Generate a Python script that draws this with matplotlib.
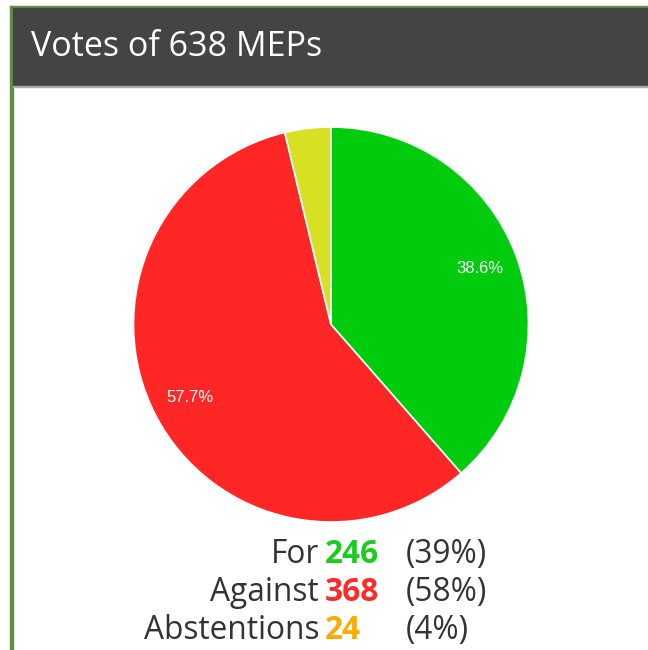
import matplotlib
matplotlib.use("Agg")
import matplotlib.pyplot as plt
from matplotlib.patches import Rectangle

title = "Votes of 638 MEPs"
categories = ["For", "Against", "Abstentions"]
votes = [246, 368, 24]
slice_colors = ["#00cc0e", "#ff2626", "#d8e024"]
number_colors = ["#1ccc1c", "#ff2a2a", "#ffaa00"]

W, H = 648, 650
fig = plt.figure(figsize=(W / 100, H / 100), dpi=100)
fig.patch.set_facecolor("white")

def fx(x):
    return x / W

def fy(y):
    return 1 - y / H

# frame: green borders, header
fig.patches.append(Rectangle((fx(10), fy(650)), fx(2.5), fy(6) - fy(650), transform=fig.transFigure, color="#5f8f47", zorder=1))
fig.patches.append(Rectangle((fx(10), fy(8.5)), 1, fy(6) - fy(8.5), transform=fig.transFigure, color="#5f8f47", zorder=1))
fig.patches.append(Rectangle((fx(12.5), fy(86)), 1, fy(8.5) - fy(86), transform=fig.transFigure, color="#444444", zorder=1))
fig.patches.append(Rectangle((fx(12.5), fy(87)), 1, fy(86) - fy(87), transform=fig.transFigure, color="#aaaaaa", zorder=1))

fig.text(fx(31), fy(47.5), title, color="white", fontsize=24.5, family="Open Sans",
         va="center", ha="left")

# pie
cx, cy, r = 331, 324.5, 197.5
ax = fig.add_axes([fx(cx - r), fy(cy + r), fx(2 * r), fy(cy - r) - fy(cy + r)])
total = sum(votes)

def fmt(p):
    return "%.1f%%" % p if p > 5 else ""

wedges, texts, autotexts = ax.pie(
    votes, colors=slice_colors, startangle=90, counterclock=False,
    autopct=fmt, pctdistance=0.805, radius=1,
    wedgeprops=dict(edgecolor="white", linewidth=1.2),
    textprops=dict(color="white", fontsize=12, family="Liberation Sans"))
ax.set_xlim(-1, 1)
ax.set_ylim(-1, 1)
ax.set_aspect("equal")
ax.axis("off")

# legend text
rows_y = [554.5, 592.5, 630.5]
fs = 22.8
for cat, v, c, y in zip(categories, votes, number_colors, rows_y):
    fig.text(fx(319), fy(y), cat, ha="right", va="center", fontsize=fs,
             family="Open Sans", color="#333333")
    fig.text(fx(325), fy(y), str(v), ha="left", va="center", fontsize=fs,
             family="Open Sans", fontweight="bold", color=c)
    fig.text(fx(406), fy(y), "(%d%%)" % round(100 * v / total), ha="left",
             va="center", fontsize=fs, family="Open Sans", color="#333333")

fig.savefig("out.png", dpi=100)
